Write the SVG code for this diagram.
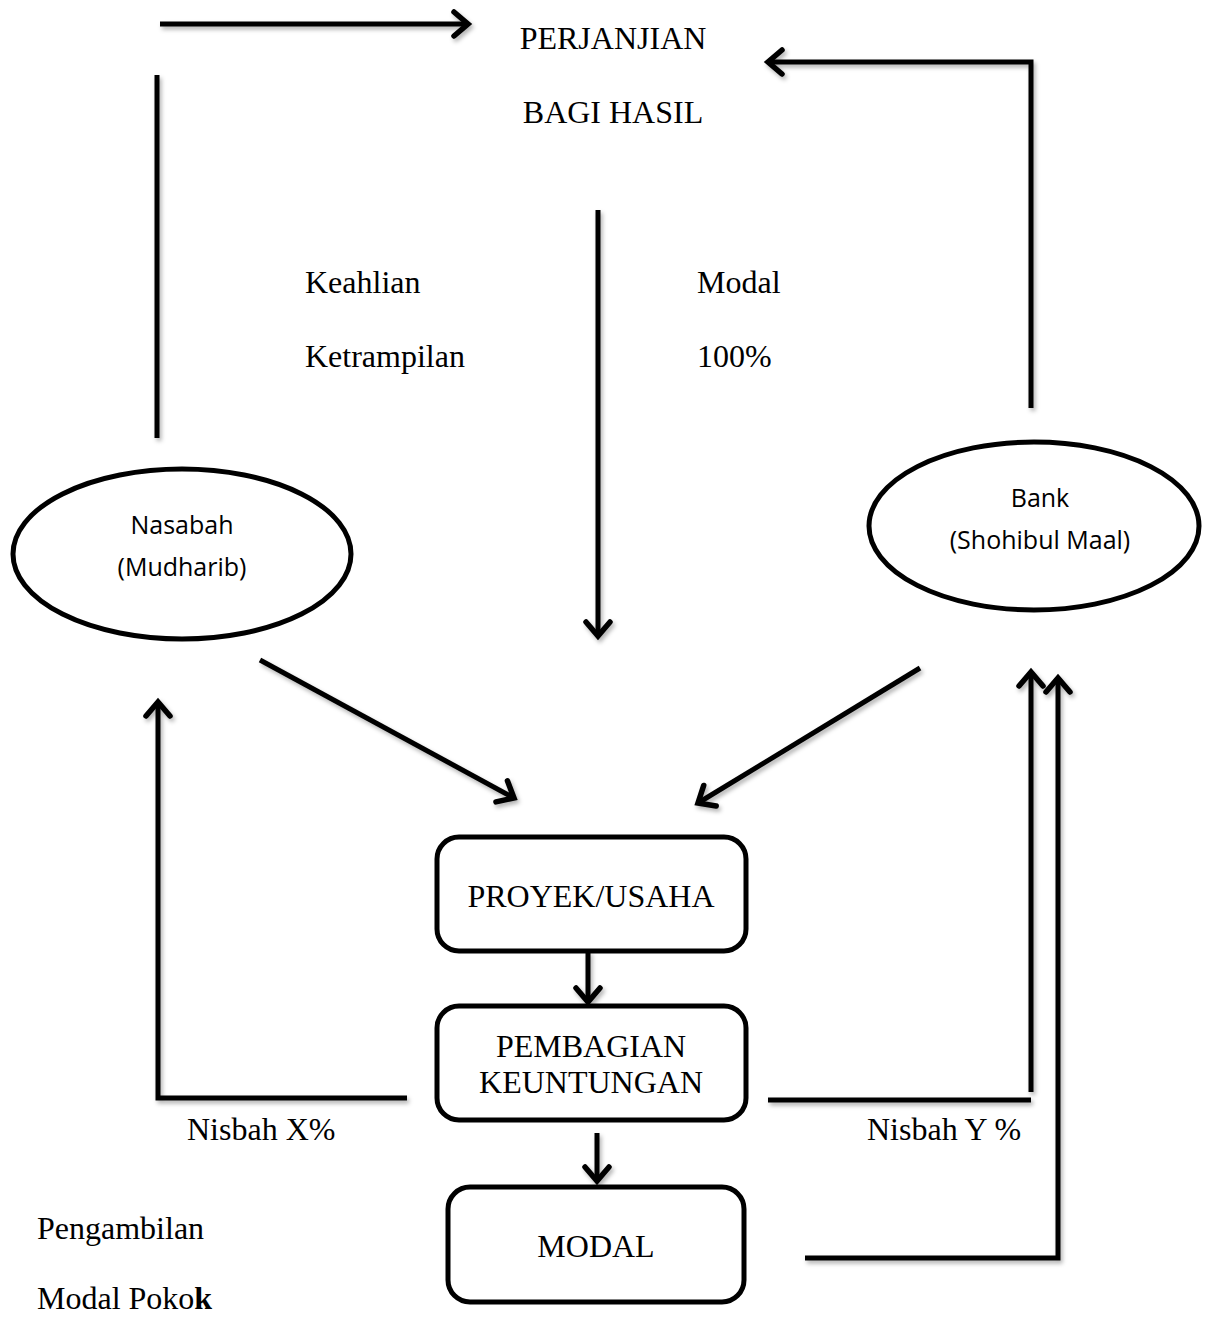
<svg xmlns="http://www.w3.org/2000/svg" width="1220" height="1318" viewBox="0 0 1220 1318">
<style>
.t{font-family:"Liberation Serif","Times New Roman",serif;font-size:32px;fill:#000}
.s{font-family:"Open Sans","Noto Sans",sans-serif;font-size:25px;fill:#000}
.c{fill:none;stroke:#000;stroke-width:5;stroke-linecap:butt;stroke-linejoin:miter}
.n{fill:#fff;stroke:#000;stroke-width:5}
</style>
<defs>
<marker id="ah" markerUnits="userSpaceOnUse" markerWidth="40" markerHeight="40" viewBox="-20 -20 40 40" refX="0" refY="0" orient="auto">
<path d="M-14,-12 L0,0 L-14,12" fill="none" stroke="#000" stroke-width="5.5" stroke-linecap="round" stroke-linejoin="miter"/>
</marker>
<filter id="sh" x="-10%" y="-10%" width="120%" height="120%">
<feDropShadow dx="2" dy="3" stdDeviation="2" flood-color="#000" flood-opacity="0.3"/>
</filter>
</defs>
<g id="connectors" filter="url(#sh)">
<path class="c" d="M160,24 L468,24" marker-end="url(#ah)"/>
<path class="c" d="M157,75 L157,438"/>
<path class="c" d="M1031,408 L1031,62 L768,62" marker-end="url(#ah)"/>
<path class="c" d="M598,210 L598,636" marker-end="url(#ah)"/>
<path class="c" d="M260,660 L514,798" marker-end="url(#ah)"/>
<path class="c" d="M920,668 L698,803" marker-end="url(#ah)"/>
<path class="c" d="M407,1098 L158,1098 L158,702" marker-end="url(#ah)"/>
<path class="c" d="M588,951 L588,1002" marker-end="url(#ah)"/>
<path class="c" d="M597,1133 L597,1181" marker-end="url(#ah)"/>
<path class="c" d="M768,1100 L1031,1100"/>
<path class="c" d="M1031,1092 L1031,672" marker-end="url(#ah)"/>
<path class="c" d="M805,1258 L1058,1258 L1058,678" marker-end="url(#ah)"/>
</g>
<g id="labels">
<text class="t" x="613" y="49" text-anchor="middle">PERJANJIAN</text>
<text class="t" x="613" y="123" text-anchor="middle">BAGI HASIL</text>
<text class="t" x="305" y="293">Keahlian</text>
<text class="t" x="305" y="367">Ketrampilan</text>
<text class="t" x="697" y="293">Modal</text>
<text class="t" x="697" y="367">100%</text>
<text class="t" x="187" y="1140">Nisbah X%</text>
<text class="t" x="867" y="1140">Nisbah Y %</text>
<text class="t" x="37" y="1239">Pengambilan</text>
<text class="t" x="37" y="1309">Modal Poko<tspan font-weight="bold">k</tspan></text>
</g>
<g id="nasabah">
<ellipse class="n" cx="182" cy="554" rx="169" ry="85"/>
<text class="s" x="182" y="534" text-anchor="middle">Nasabah</text>
<text class="s" x="182" y="576" text-anchor="middle">(Mudharib)</text>
</g>
<g id="bank">
<ellipse class="n" cx="1034" cy="526" rx="165" ry="84"/>
<text class="s" x="1040" y="507" text-anchor="middle">Bank</text>
<text class="s" x="1040" y="549" text-anchor="middle">(Shohibul Maal)</text>
</g>
<g id="proyek">
<rect class="n" x="437" y="837" width="309" height="114" rx="22"/>
<text class="t" x="591" y="907" text-anchor="middle">PROYEK/USAHA</text>
</g>
<g id="pembagian">
<rect class="n" x="437" y="1006" width="309" height="114" rx="22"/>
<text class="t" x="591" y="1057" text-anchor="middle">PEMBAGIAN</text>
<text class="t" x="591" y="1093" text-anchor="middle">KEUNTUNGAN</text>
</g>
<g id="modal">
<rect class="n" x="448" y="1187" width="296" height="115" rx="22"/>
<text class="t" x="596" y="1257" text-anchor="middle">MODAL</text>
</g>
</svg>
